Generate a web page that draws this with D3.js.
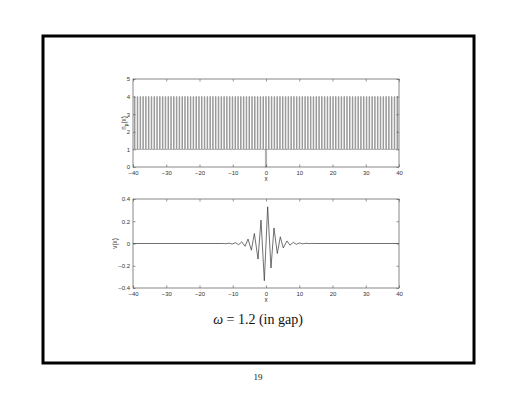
<!DOCTYPE html>
<html><head><meta charset="utf-8">
<script src="https://cdn.jsdelivr.net/npm/d3@7"></script>
<style>body{margin:0;background:#fff}svg{display:block}</style>
</head><body>
<svg id="c" width="517" height="400"></svg>
<script>
// ---- data ----
const xTicks = [-40,-30,-20,-10,0,10,20,30,40];
const nTicks = [0,1,2,3,4,5];
const vTicks = [-0.4,-0.2,0,0.2,0.4];
// centres of high-index layers (n = 4), background n = 1
const layerCentres = [-39.48,-38.64,-37.8,-36.96,-36.12,-35.28,-34.44,-33.6,-32.76,-31.92,-31.08,-30.24,-29.4,-28.56,-27.72,-26.88,-26.04,-25.2,-24.36,-23.52,-22.68,-21.84,-21,-20.16,-19.32,-18.48,-17.64,-16.8,-15.96,-15.12,-14.28,-13.44,-12.6,-11.76,-10.92,-10.08,-9.24,-8.4,-7.56,-6.72,-5.88,-5.04,-4.2,-3.36,-2.52,-1.68,-0.84,0,0.84,1.68,2.52,3.36,4.2,5.04,5.88,6.72,7.56,8.4,9.24,10.08,10.92,11.76,12.6,13.44,14.28,15.12,15.96,16.8,17.64,18.48,19.32,20.16,21,21.84,22.68,23.52,24.36,25.2,26.04,26.88,27.72,28.56,29.4,30.24,31.08,31.92,32.76,33.6,34.44,35.28,36.12,36.96,37.8,38.64,39.48];
const nLow = 1, nHigh = 4, nDefect = 0;
const defectCentre = 0, defectWidth = 0.35, layerWidth = 0.18;
// v(x): mode profile (x, v)
const vX = [-40,-13.5,-13,-12.1,-11.1,-10.2,-9.2,-8.2,-7.3,-6.3,-5.4,-4.4,-3.5,-2.4,-1.5,-0.5,0.5,1.5,2.4,3.4,4.3,5.2,6.3,7.2,8.2,9.1,10.1,11,12,13,13.8,14.5,40];
const vY = [0,0,0.001,-0.002,0.003,-0.005,0.007,-0.01,0.015,-0.025,0.04,-0.06,0.09,-0.14,0.21,-0.335,0.33,-0.22,0.14,-0.09,0.06,-0.04,0.023,-0.015,0.01,-0.007,0.005,-0.003,0.002,-0.001,0.001,0,0];

const svg = d3.select("#c");

// page frame
svg.append("rect").attr("x",43).attr("y",36).attr("width",431).attr("height",327)
  .attr("fill","none").attr("stroke","#000").attr("stroke-width",3);

const L = 133, R = 399;
const x = d3.scaleLinear().domain([-40,40]).range([L,R]);
const FONT = "Liberation Sans, Arial, sans-serif";

function axesBox(y, yT, yFmt, top, bottom, ylabel, sub){
  const g = svg.append("g");
  g.append("rect").attr("x",L).attr("y",top).attr("width",R-L).attr("height",bottom-top)
    .attr("fill","none").attr("stroke","#555").attr("stroke-width",0.7);
  const tl = 2.6;
  const gx = g.append("g").attr("transform",`translate(0,${bottom})`)
    .call(d3.axisBottom(x).tickValues(xTicks).tickSize(-tl).tickPadding(3.6).tickFormat(d=>d===0?"0":d3.format("d")(d).replace("-","\u2212")));
  const gxt = g.append("g").attr("transform",`translate(0,${top})`)
    .call(d3.axisTop(x).tickValues(xTicks).tickSize(-tl).tickFormat(""));
  const gy = g.append("g").attr("transform",`translate(${L},0)`)
    .call(d3.axisLeft(y).tickValues(yT).tickSize(-tl).tickPadding(3).tickFormat(yFmt));
  const gyr = g.append("g").attr("transform",`translate(${R},0)`)
    .call(d3.axisRight(y).tickValues(yT).tickSize(-tl).tickFormat(""));
  [gx,gxt,gy,gyr].forEach(a=>{
    a.select(".domain").remove();
    a.selectAll("line").attr("stroke","#555").attr("stroke-width",0.6);
    a.selectAll("text").attr("font-family",FONT).attr("font-size",6).attr("fill","#333");
  });
  g.append("text").attr("x",(L+R)/2).attr("y",bottom+14).attr("text-anchor","middle")
    .attr("font-family",FONT).attr("font-size",6.3).attr("fill","#333").text("x");
  const yl = g.append("text").attr("transform",`translate(${ylabel.x},${(top+bottom)/2}) rotate(-90)`)
    .attr("text-anchor","middle").attr("font-family",FONT)
    .attr("font-size",6.3).attr("fill","#333");
  if(sub){
    yl.append("tspan").text("n");
    yl.append("tspan").attr("font-size",4.8).attr("dy",1.8).text("p");
    yl.append("tspan").attr("dy",-1.8).text("(x)");
  } else yl.text(ylabel.t);
  return g;
}

// ---- top plot: n_p(x) ----
const t1 = 79, b1 = 167;
const yN = d3.scaleLinear().domain([0,5]).range([b1,t1]);
axesBox(yN, nTicks, d=>d, t1, b1, {x:126}, true);

const steps = [[-40,nLow]];
layerCentres.forEach(c=>{
  const a = c-layerWidth/2, b = c+layerWidth/2;
  steps.push([a,nLow],[a,nHigh],[b,nHigh],[b,nLow]);
});
steps.push([40,nLow]);
const lineN = d3.line().x(d=>x(d[0])).y(d=>yN(d[1]));
svg.append("path").attr("d",lineN(steps)).attr("fill","none").attr("stroke","#555").attr("stroke-width",0.5);
const dA = defectCentre-defectWidth/2, dB = defectCentre+defectWidth/2;
svg.append("path").attr("d",lineN([[dA,nLow],[dA,nDefect],[dB,nDefect],[dB,nLow]]))
  .attr("fill","none").attr("stroke","#555").attr("stroke-width",0.5);

// ---- bottom plot: v(x) ----
const t2 = 199, b2 = 288;
const yV = d3.scaleLinear().domain([-0.4,0.4]).range([b2,t2]);
axesBox(yV, vTicks, d=>d===0?"0":d3.format(".1f")(d).replace("-","\u2212"), t2, b2, {x:117, t:"v(x)"}, false);
const lineV = d3.line().x((d,i)=>x(vX[i])).y((d,i)=>yV(vY[i]));
svg.append("path").attr("d",lineV(vX)).attr("fill","none").attr("stroke","#333").attr("stroke-width",0.7);

// ---- caption ----
const cap = svg.append("text").attr("x",258).attr("y",324).attr("text-anchor","middle")
  .attr("font-family","Liberation Serif, Times New Roman, serif").attr("font-size",14).attr("fill","#111");
cap.append("tspan").attr("font-style","italic").text("ω");
cap.append("tspan").text(" = 1.2 (in gap)");
svg.append("text").attr("x",258).attr("y",380).attr("text-anchor","middle")
  .attr("font-family","Liberation Serif, Times New Roman, serif").attr("font-size",9).attr("fill","#111").text("19");
</script>
</body></html>
